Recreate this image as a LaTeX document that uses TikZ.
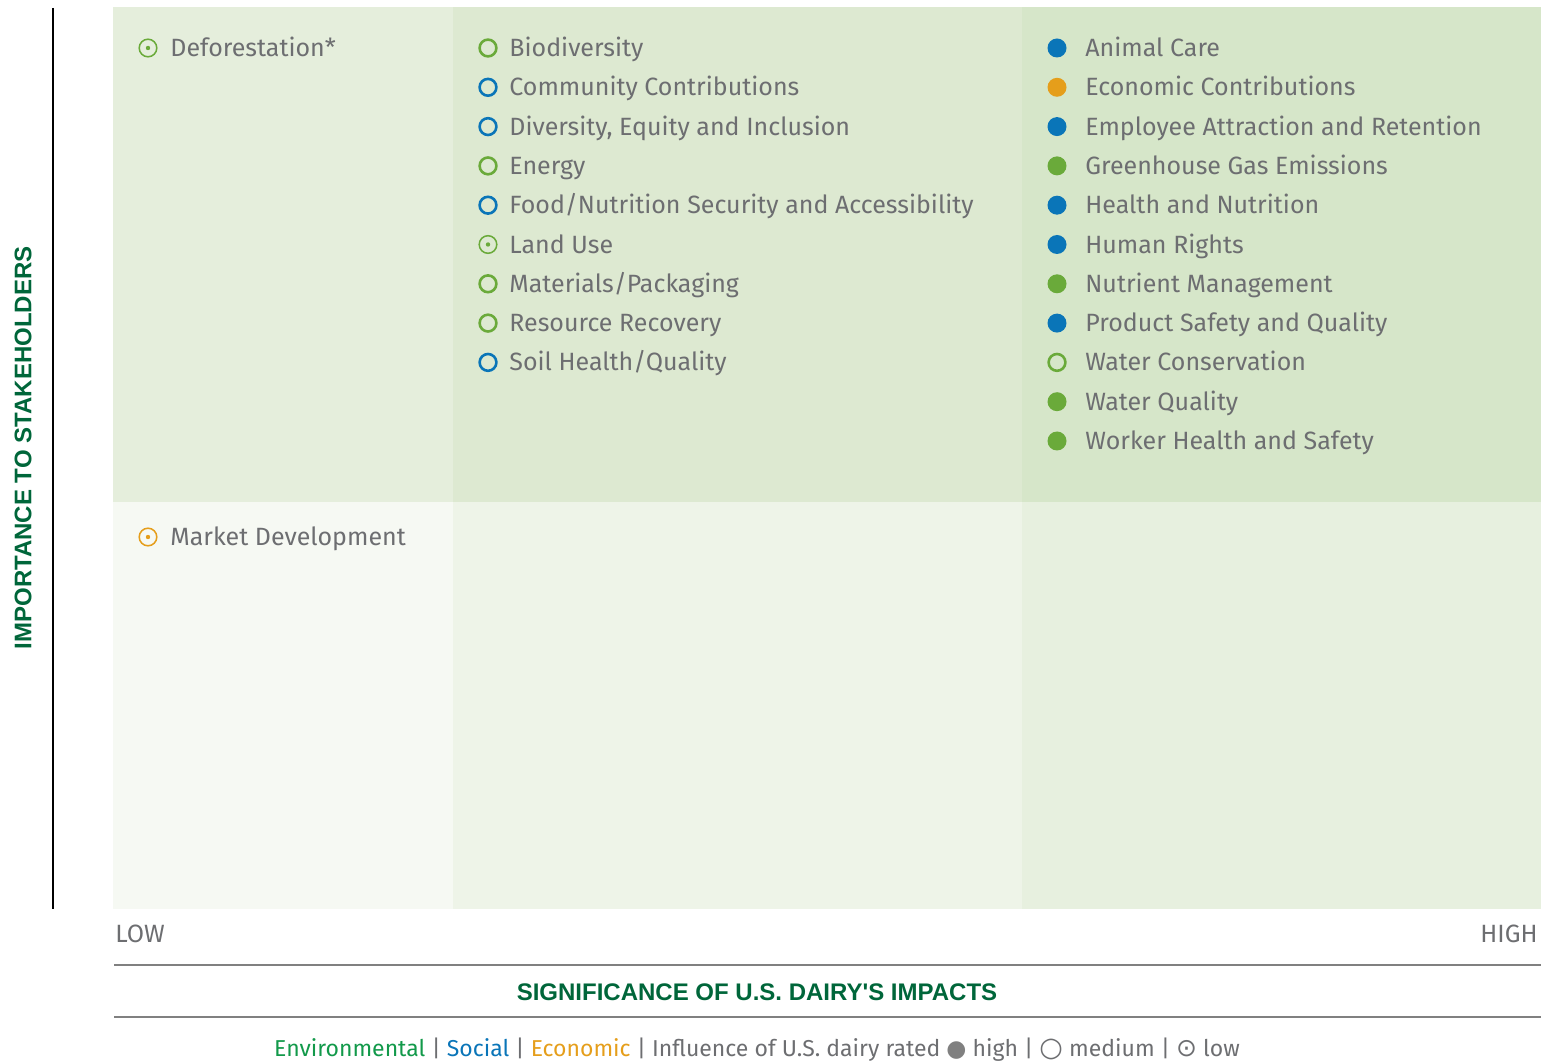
\documentclass[tikz,border=0pt]{standalone}
\usepackage{fontspec}
\setmainfont{Fira Sans}
\newfontfamily\symfont{DejaVu Sans}
\newfontfamily\axisfont{Liberation Sans}
\usetikzlibrary{positioning}

\definecolor{envgreen}{HTML}{6AAA3A}
\definecolor{socblue}{HTML}{0A75B8}
\definecolor{ecoorange}{HTML}{E59E1B}
\definecolor{txtgray}{HTML}{6D6E71}
\definecolor{axisgreen}{HTML}{00663A}
\definecolor{legendgreen}{HTML}{12994A}
\definecolor{cellA}{HTML}{E5EEDC}
\definecolor{cellB}{HTML}{DDE9D1}
\definecolor{cellC}{HTML}{D6E6C9}
\definecolor{cellD}{HTML}{F6F9F3}
\definecolor{cellE}{HTML}{EEF4E8}
\definecolor{cellF}{HTML}{E7F0DF}

\tikzset{
  hi/.style={circle,fill=#1,inner sep=0pt,minimum size=9.5pt},
  med/.style={circle,draw=#1,line width=1.3pt,inner sep=0pt,minimum size=8.4pt},
  lo/.style={circle,draw=#1,line width=0.75pt,inner sep=0pt,minimum size=8.8pt,
    path picture={\fill[#1] (path picture bounding box.center) circle (1.1pt);}},
  item/.style={inner sep=0pt,text=txtgray,text height=8.6pt,text depth=0pt,
    font=\fontsize{12.5}{15}\selectfont},
  axislabel/.style={text=axisgreen,font=\axisfont\fontsize{12}{14}\selectfont\bfseries},
}

\begin{document}
\begin{tikzpicture}[x=0.5pt,y=-0.5pt]
\useasboundingbox (0,0) rectangle (1541,1063);

% matrix cells
\fill[cellA] (113,7) rectangle (453,502);
\fill[cellB] (453,7) rectangle (1022,502);
\fill[cellC] (1022,7) rectangle (1541,502);
\fill[cellD] (113,502) rectangle (453,909);
\fill[cellE] (453,502) rectangle (1022,909);
\fill[cellF] (1022,502) rectangle (1541,909);

% axes
\coordinate (ytop) at (53,8);
\coordinate (ybot) at (53,909);
\draw[line width=0.8pt] (ytop) -- (ybot);
\node[axislabel,rotate=90] (ylab) at (23,448) {IMPORTANCE TO STAKEHOLDERS};

\node[item,anchor=west] (low) at (115,934) {LOW};
\node[item,anchor=east] (high) at (1538,934) {HIGH};
\coordinate (l1a) at (114,965);
\coordinate (l1b) at (1541,965);
\coordinate (l2a) at (114,1017);
\coordinate (l2b) at (1541,1017);
\draw[gray,line width=1pt] (l1a) -- (l1b);
\draw[gray,line width=1pt] (l2a) -- (l2b);
\node[axislabel] (xlab) at (757,992) {SIGNIFICANCE OF U.S. DAIRY'S IMPACTS};

% low significance
\node[lo=envgreen] (ma) at (148,48) {};
\node[item,right=11pt of ma.center] (ta) {Deforestation*};
\node[lo=ecoorange] (mb) at (148,537) {};
\node[item,right=11pt of mb.center] (tb) {Market Development};

% medium significance
\foreach \t/\c/\k [count=\i from 0] in {
  Biodiversity/envgreen/med,
  Community Contributions/socblue/med,
  {Diversity, Equity and Inclusion}/socblue/med,
  Energy/envgreen/med,
  {Food/Nutrition Security and Accessibility}/socblue/med,
  Land Use/envgreen/lo,
  {Materials/Packaging}/envgreen/med,
  Resource Recovery/envgreen/med,
  {Soil Health/Quality}/socblue/med} {
  \node[\k=\c] (mm\i) at (488,48+39.3*\i) {};
  \node[item,right=10.5pt of mm\i.center] (tm\i) {\t};
}

% high significance
\foreach \t/\c/\k [count=\i from 0] in {
  Animal Care/socblue/hi,
  Economic Contributions/ecoorange/hi,
  Employee Attraction and Retention/socblue/hi,
  Greenhouse Gas Emissions/envgreen/hi,
  Health and Nutrition/socblue/hi,
  Human Rights/socblue/hi,
  Nutrient Management/envgreen/hi,
  Product Safety and Quality/socblue/hi,
  Water Conservation/envgreen/med,
  Water Quality/envgreen/hi,
  Worker Health and Safety/envgreen/hi} {
  \node[\k=\c] (mh\i) at (1057,48+39.3*\i) {};
  \node[item,right=14pt of mh\i.center] (th\i) {\t};
}

% legend
\node[text=txtgray,font=\fontsize{11.5}{14}\selectfont] (legend) at (757,1050)
  {\textcolor{legendgreen}{Environmental} | \textcolor{socblue}{Social} |
   \textcolor{ecoorange}{Economic} | Influence of U.S. dairy rated
   {\symfont\textcolor{gray}{●}} high | {\symfont\fontsize{13.5}{14}\selectfont ○} medium |
   {\symfont\fontsize{12.5}{14}\selectfont ⊙} low};
\end{tikzpicture}
\end{document}
